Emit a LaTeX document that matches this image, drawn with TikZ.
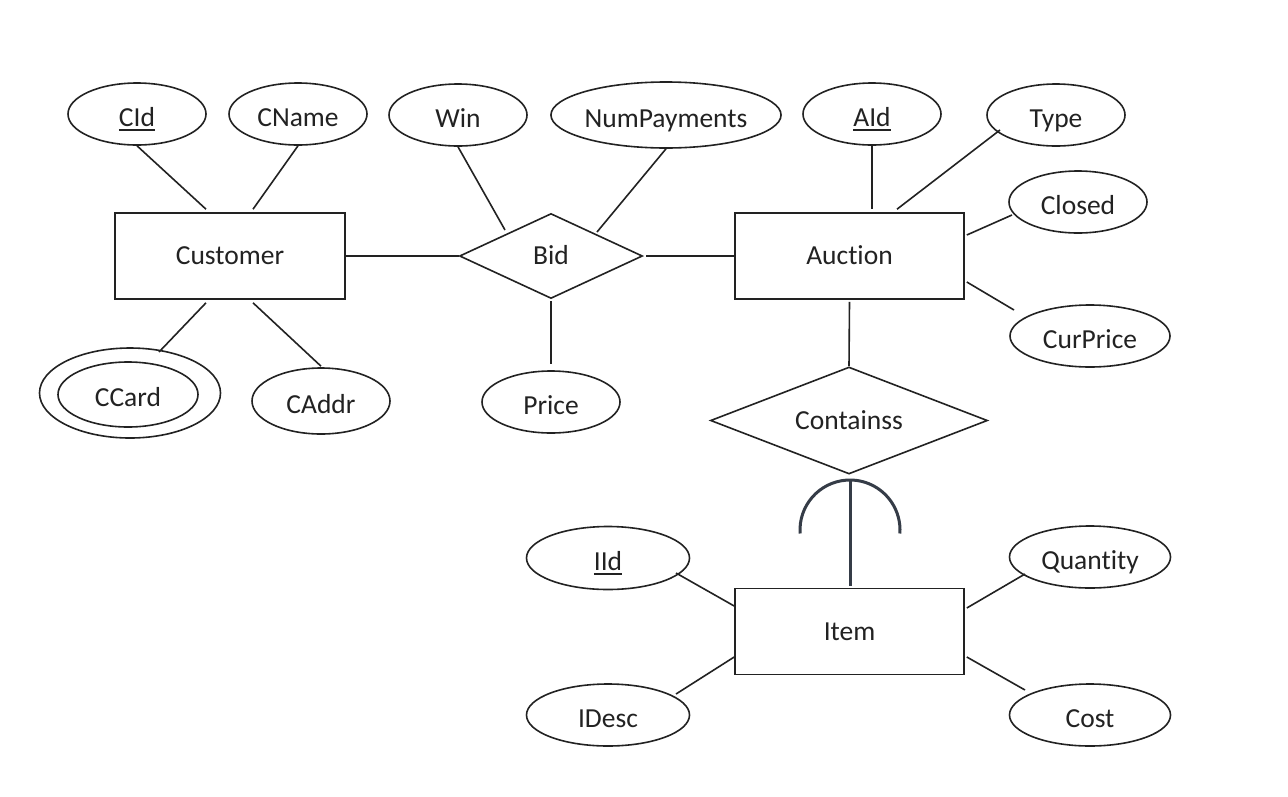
\documentclass[tikz,border=0pt]{standalone}
\usepackage{fontspec}
\setmainfont{Carlito}[Ligatures={NoCommon}]
\usetikzlibrary{shapes.geometric,calc}
\definecolor{ink}{HTML}{222222}
\definecolor{dark}{HTML}{353C47}
\newcommand\myul[1]{\setbox0\hbox{#1}\rlap{\raisebox{-5pt}{\rule{\wd0}{1.8pt}}}\box0}
\begin{document}
\begin{tikzpicture}[x=1pt,y=-1pt,
  every node/.style={font=\fontsize{27.5}{31}\selectfont, text=ink},
  attr/.style={draw=ink, line width=1.6pt, ellipse, inner sep=0pt, minimum width=138pt, minimum height=62pt, text height=24.5pt, text depth=0pt},
  entity/.style={draw=ink, line width=1.6pt, rectangle, inner sep=0pt, minimum width=230pt, minimum height=86pt, text height=17.7pt, text depth=0pt},
  rel/.style={draw=ink, line width=1.6pt, diamond, inner sep=0pt, text height=17.7pt, text depth=0pt},
  conn/.style={draw=ink, line width=1.6pt},
  strong/.style={draw=dark, line width=3pt}]
\useasboundingbox (0,0) rectangle (1288,796);
\fill[white] (0,0) rectangle (1288,796);

% entities
\node[entity] (cust) at (230,256) {Customer};
\node[entity, minimum width=229pt] (auction) at (849.5,256) {Auction};
\node[entity, minimum width=229pt] (item) at (849.5,631.5) {Item};

% relationships
\node[rel, minimum width=183pt, minimum height=85pt, aspect=2.15] (bid) at (551,256) {Bid};
\node[rel, minimum width=277pt, minimum height=107pt, aspect=2.59] (contains) at (849,420.5) {Containss};

% attributes
\node[attr] (cid) at (137,114) {\myul{CId}};
\node[attr] (cname) at (298,114) {CName};
\node[attr] (win) at (458,115) {Win};
\node[attr, minimum width=228pt, minimum height=66pt] (nump) at (666,115) {NumPayments};
\node[attr] (aid) at (872,114) {\myul{AId}};
\node[attr] (type) at (1056,115) {Type};
\node[attr] (closed) at (1078,202) {Closed};
\node[attr, minimum width=160pt] (curprice) at (1090,336) {CurPrice};
\node[attr, minimum width=181pt, minimum height=90pt] (ccard) at (130,393) {};
\node[attr, minimum width=140pt, minimum height=65pt] (ccardin) at (128,394.5) {CCard};
\node[attr, minimum height=66pt] (caddr) at (321,401) {CAddr};
\node[attr] (price) at (551,402) {Price};
\node[attr, minimum width=163pt, minimum height=63pt] (iid) at (608,558) {\myul{IId}};
\node[attr, minimum width=161pt] (quantity) at (1090,557) {Quantity};
\node[attr, minimum width=163pt] (idesc) at (608,715) {IDesc};
\node[attr, minimum width=161pt] (cost) at (1090,715) {Cost};

% connectors: Customer
\draw[conn] (cid.south) -- ($(cust.north)+(-24,-3)$);
\draw[conn] (cname.south) -- ($(cust.north)+(23,-3)$);
\draw[conn] ($(ccard.center)+(29,-41)$) -- ($(cust.south)+(-24,3)$);
\draw[conn] ($(caddr.north)+(0,-1)$) -- ($(cust.south)+(23,3)$);
\draw[conn] (cust.east) -- (bid.west);

% connectors: Bid
\draw[conn] (win.south) -- ($(bid.center)+(-46,-26)$);
\draw[conn] (nump.south) -- ($(bid.center)+(46,-24)$);
\draw[conn] ($(bid.south)+(0,2)$) -- ($(price.north)+(0,-6)$);
\draw[conn] ($(bid.east)+(3,0)$) -- ($(auction.west)+(2,0)$);

% connectors: Auction
\draw[conn] (aid.south) -- ($(auction.north)+(22.5,-3)$);
\draw[conn] ($(type.center)+(-56,15)$) -- ($(auction.north)+(47.5,-3)$);
\draw[conn] ($(closed.center)+(-66,13)$) -- ($(auction.east)+(2,-21)$);
\draw[conn] ($(curprice.center)+(-76,-26)$) -- ($(auction.east)+(2,26)$);
\draw[conn] ($(auction.south)+(0,2)$) -- (contains.north);

% Containss - Item (total participation with arc)
\coordinate (k) at (850,530);
\draw[strong] ($(contains.south)+(1,6)$) -- ($(item.north)+(0.5,-2)$);
\draw[strong] ([shift={(184:50pt)}]k) arc[start angle=184, end angle=-4, radius=50pt];

% connectors: Item
\draw[conn] ($(iid.center)+(68,15)$) -- ($(item.west)+(0,-25.5)$);
\draw[conn] ($(idesc.center)+(68,-21)$) -- ($(item.west)+(0,25.5)$);
\draw[conn] ($(quantity.center)+(-65,17)$) -- ($(item.east)+(2,-23.5)$);
\draw[conn] ($(cost.center)+(-65,-25)$) -- ($(item.east)+(2,25.5)$);
\end{tikzpicture}
\end{document}
